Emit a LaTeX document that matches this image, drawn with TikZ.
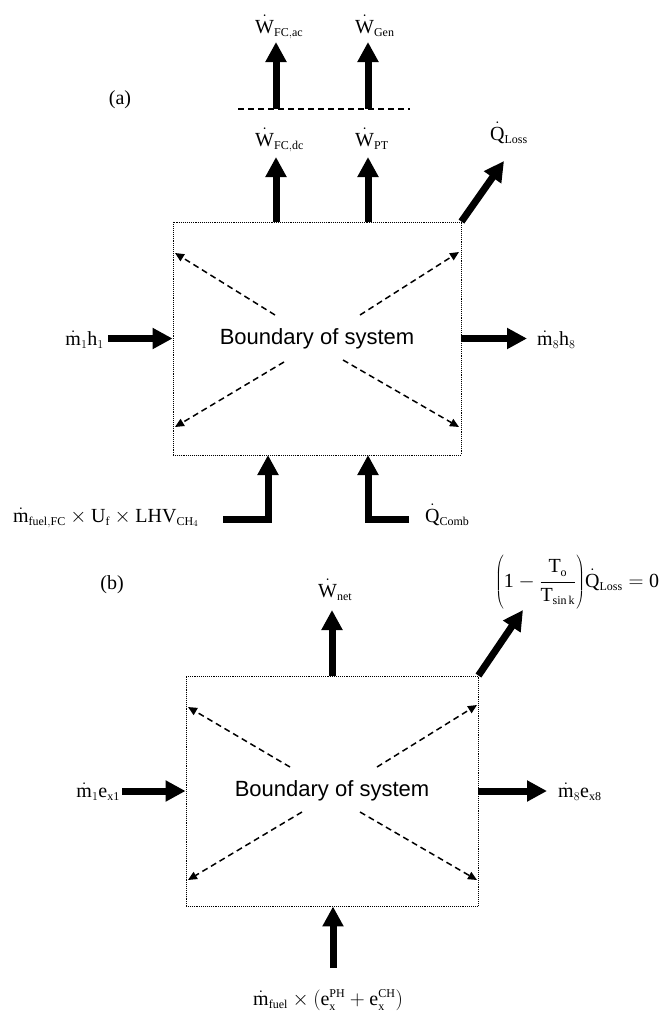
\documentclass[tikz,border=0pt]{standalone}
\usepackage{fontspec}
\setmainfont{Liberation Serif}
\newfontfamily\sansf{Liberation Sans}
\usetikzlibrary{arrows.meta}
\DeclareMathSizes{20}{20}{12}{9}
\tikzset{
  lbl/.style={font=\fontsize{20}{24}\selectfont, inner sep=0pt},
  sysbox/.style={draw, densely dotted, line width=0.9pt, font=\sansf\fontsize{22}{26}\selectfont},
  big/.style={line width=7pt, -{Triangle[length=20pt,width=20pt]}},
  bigL/.style={line width=7pt, line join=miter, -{Triangle[length=20pt,width=20pt]}},
  dsh/.style={line width=1.5pt, dash pattern=on 6pt off 4pt, -{Triangle[length=9pt,width=8pt]}},
  sep/.style={line width=1.3pt, dash pattern=on 6pt off 4pt}
}
\begin{document}
\begin{tikzpicture}[x=1pt,y=-1pt]
\useasboundingbox (0,0) rectangle (667,1020);
% ---------------- (a) ----------------
\node[lbl] (la) at (120,100) {(a)};
\node[sysbox, minimum width=288pt, minimum height=233pt] (A) at (317,338.5) {Boundary of system};
\node[lbl, anchor=base west] (wac) at (255,33) {$\dot{\mathrm W}_{\mathrm{FC,ac}}$};
\node[lbl, anchor=base west] (wgen) at (355,33) {$\dot{\mathrm W}_{\mathrm{Gen}}$};
\node[lbl, anchor=base west] (wdc) at (255,146) {$\dot{\mathrm W}_{\mathrm{FC,dc}}$};
\node[lbl, anchor=base west] (wpt) at (355,146) {$\dot{\mathrm W}_{\mathrm{PT}}$};
\node[lbl, anchor=base west] (qla) at (490,140) {$\dot{\mathrm Q}_{\mathrm{Loss}}$};
\node[lbl, anchor=base east] (m1h1) at (104,345) {$\dot{\mathrm m}_{1}\mathrm h_{1}$};
\node[lbl, anchor=base west] (m8h8) at (537,345) {$\dot{\mathrm m}_{8}\mathrm h_{8}$};
\node[lbl, anchor=base east] (fuel) at (199,522) {$\dot{\mathrm m}_{\mathrm{fuel,FC}}\times\mathrm U_{\mathrm f}\times\mathrm{LHV}_{\mathrm{CH}_4}$};
\node[lbl, anchor=base west] (qcomb) at (425,522) {$\dot{\mathrm Q}_{\mathrm{Comb}}$};
\coordinate (sepL) at (238,109);
\coordinate (sepR) at (410,109);
\draw[sep] (sepL) -- (sepR);
% work arrows
\coordinate (t1) at (276,157); \coordinate (t2) at (368,157);
\coordinate (u1) at (276,42);  \coordinate (u2) at (368,42);
\draw[big] (A.north -| t1) -- (t1);
\draw[big] (A.north -| t2) -- (t2);
\draw[big] (sepL -| u1) -- (u1);
\draw[big] (sepL -| u2) -- (u2);
\coordinate (qa) at (504,161);
\draw[big] (A.north east) -- (qa);
\coordinate (inA) at (108,338.5); \coordinate (outA) at (527,338.5);
\draw[big] (inA) -- (A.west);
\draw[big] (A.east) -- (outA);
\coordinate (fa) at (223,519); \coordinate (qca) at (409,519);
\draw[bigL] (fa) -| (268,455);
\draw[bigL] (qca) -| (368,455);
% internal dashed arrows
\coordinate (a1s) at (275,315); \coordinate (a1e) at (175,253);
\coordinate (a2s) at (360,315); \coordinate (a2e) at (459,252);
\coordinate (a3s) at (284,362); \coordinate (a3e) at (175,427);
\coordinate (a4s) at (343,360); \coordinate (a4e) at (459,427);
\draw[dsh] (a1s) -- (a1e);
\draw[dsh] (a2s) -- (a2e);
\draw[dsh] (a3s) -- (a3e);
\draw[dsh] (a4s) -- (a4e);
% ---------------- (b) ----------------
\node[lbl] (lb) at (112,585) {(b)};
\node[sysbox, minimum width=292pt, minimum height=230pt] (B) at (332,791) {Boundary of system};
\node[lbl, anchor=base west] (wnet) at (318,597) {$\dot{\mathrm W}_{\mathrm{net}}$};
\node[lbl, anchor=base west] (qlb) at (495,587) {$\left(\vrule height 33pt depth 23pt width 0pt\mathrm{1}-{\displaystyle\frac{\mathrm T_{\mathrm o}}{\mathrm T_{\mathrm{sin\,k}}}}\right)\!\dot{\mathrm Q}_{\mathrm{Loss}}=\mathrm{0}$};
\node[lbl, anchor=base east] (m1e) at (120,797) {$\dot{\mathrm m}_{1}\mathrm e_{\mathrm{x1}}$};
\node[lbl, anchor=base west] (m8e) at (558,797) {$\dot{\mathrm m}_{8}\mathrm e_{\mathrm{x8}}$};
\node[lbl, anchor=base west] (fuelb) at (253,1005) {$\dot{\mathrm m}_{\mathrm{fuel}}\times\left(\mathrm e_{\mathrm x}^{\mathrm{PH}}+\mathrm e_{\mathrm x}^{\mathrm{CH}}\right)$};
\coordinate (tn) at (332,610);
\draw[big] (B.north -| tn) -- (tn);
\coordinate (qb) at (523,610);
\draw[big] (B.north east) -- (qb);
\coordinate (inB) at (122,791); \coordinate (outB) at (547,791);
\draw[big] (inB) -- (B.west);
\draw[big] (B.east) -- (outB);
\coordinate (fb) at (333,968);
\draw[big] (fb) -- (B.south -| fb);
\coordinate (b1s) at (290,767); \coordinate (b1e) at (188,707);
\coordinate (b2s) at (377,767); \coordinate (b2e) at (477,705);
\coordinate (b3s) at (302,812); \coordinate (b3e) at (188,880);
\coordinate (b4s) at (360,812); \coordinate (b4e) at (477,880);
\draw[dsh] (b1s) -- (b1e);
\draw[dsh] (b2s) -- (b2e);
\draw[dsh] (b3s) -- (b3e);
\draw[dsh] (b4s) -- (b4e);
\end{tikzpicture}
\end{document}
